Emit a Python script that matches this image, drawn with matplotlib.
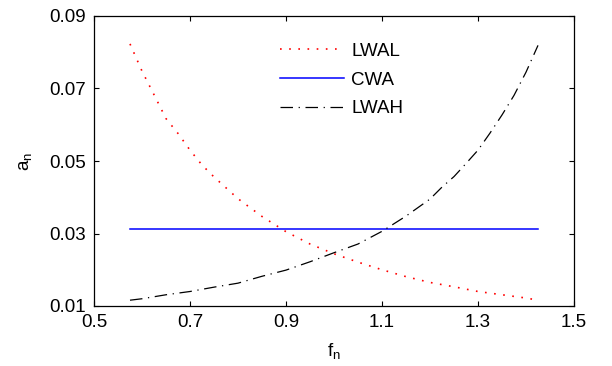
import numpy as np
import matplotlib
matplotlib.use("Agg")
import matplotlib.pyplot as plt

plt.rcParams['font.family'] = ['Liberation Sans', 'DejaVu Sans']
plt.rcParams['mathtext.fontset'] = 'custom'
plt.rcParams['mathtext.rm'] = 'Liberation Sans'

# values
f_lwal = [0.575, 0.6, 0.625, 0.65, 0.675, 0.7, 0.725, 0.75, 0.775, 0.8,
          0.85, 0.9, 0.95, 1.0, 1.05, 1.1, 1.15, 1.2, 1.25, 1.3, 1.35, 1.4, 1.425]
a_lwal = [0.0823, 0.0748, 0.0683, 0.0617, 0.0576, 0.0530, 0.0489, 0.0456, 0.0426, 0.0396,
          0.0347, 0.0305, 0.0271, 0.0244, 0.0221, 0.0200, 0.0181, 0.0165, 0.0153, 0.0140,
          0.0131, 0.0122, 0.0116]

f_cwa = [0.575, 1.425]
a_cwa = [0.0313, 0.0313]

f_lwah = [0.575, 0.6, 0.65, 0.7, 0.75, 0.8, 0.85, 0.9, 0.95, 1.0, 1.05, 1.1, 1.15,
          1.2, 1.225, 1.25, 1.275, 1.3, 1.325, 1.35, 1.375, 1.4, 1.425]
a_lwah = [0.0116, 0.0120, 0.0131, 0.0140, 0.0152, 0.0163, 0.0182, 0.0199, 0.0222, 0.0247,
          0.0271, 0.0306, 0.0348, 0.0395, 0.0428, 0.0457, 0.0493, 0.0530, 0.0577, 0.0627,
          0.0681, 0.0745, 0.0819]

xticks = [0.5, 0.7, 0.9, 1.1, 1.3, 1.5]
yticks = [0.01, 0.03, 0.05, 0.07, 0.09]

fig = plt.figure(figsize=(6.12, 3.66), dpi=100)
ax = fig.add_axes([94 / 612, 1 - 306 / 366, 480 / 612, 290 / 366])

ax.plot(f_lwal, a_lwal, color='#ff0000', lw=1.2, linestyle=(0, (1, 4.5)), label='LWAL')
ax.plot(f_cwa, a_cwa, color='#0000ff', lw=1.1, label='CWA')
ax.plot(f_lwah, a_lwah, color='black', lw=0.9, linestyle=(0, (10, 4.5, 1, 4.5)), label='LWAH')

ax.set_xlim(0.5, 1.5)
ax.set_ylim(0.01, 0.09)
ax.set_xticks(xticks)
ax.set_yticks(yticks)
ax.set_xticklabels([f"{v:g}" for v in xticks])
ax.set_yticklabels([f"{v:.2f}" for v in yticks])
ax.tick_params(direction='in', length=3.6, width=0.8, top=True, right=True,
               labelsize=13.5, pad=5.5)
for s in ax.spines.values():
    s.set_linewidth(0.9)

ax.set_xlabel(r'$\mathregular{f_n}$', fontsize=13.5)
ax.set_ylabel(r'$\mathregular{a_n}$', fontsize=13.5)
ax.xaxis.set_label_coords(0.5, -0.12)
ax.yaxis.set_label_coords(-0.125, 0.5)

ax.legend(loc='upper left', bbox_to_anchor=(0.3875, 0.908), frameon=False,
          fontsize=13.5, handlelength=3.4, handletextpad=0.4, labelspacing=0.62,
          borderpad=0, borderaxespad=0)

fig.savefig('out.png', dpi=100)
